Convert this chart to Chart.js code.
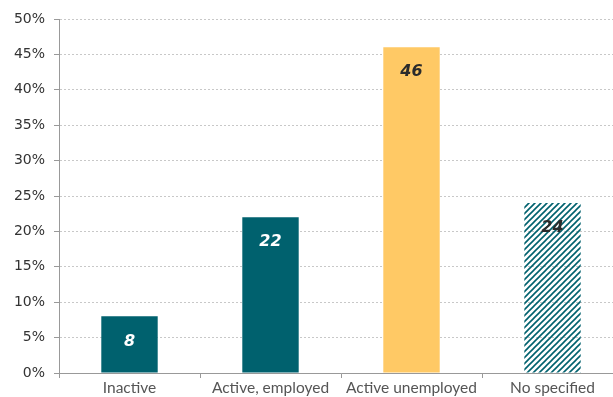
<!DOCTYPE html>
<html>
<head>
<meta charset="utf-8">
<script src="https://cdn.jsdelivr.net/npm/chart.js@4"></script>
<style>
  html, body { margin: 0; padding: 0; overflow: hidden; background: #fff; }
  #wrap { position: relative; width: 623px; height: 397px; }
</style>
</head>
<body>
<div id="wrap"><canvas id="chart"></canvas></div>
<script>
/* Share by activity status, in % */
const categories = ['Inactive', 'Active, employed', 'Active unemployed', 'No specified'];
const shares = [8, 22, 46, 24];
const yTicks = [0, 5, 10, 15, 20, 25, 30, 35, 40, 45, 50];

const teal = '#00616e';
const yellow = '#ffc965';

// hatched fill for the "No specified" bar
function hatch() {
  const c = document.createElement('canvas');
  c.width = 6; c.height = 6;
  const g = c.getContext('2d');
  g.strokeStyle = teal;
  g.lineWidth = 1.6;
  g.beginPath();
  g.moveTo(-1, 7); g.lineTo(7, -1);
  g.moveTo(-4, 4); g.lineTo(4, -4);
  g.moveTo(2, 10); g.lineTo(10, 2);
  g.stroke();
  return g.createPattern(c, 'repeat');
}

const fills = [teal, teal, yellow, hatch()];
const labelColors = ['#ffffff', '#ffffff', '#2b2b2b', '#2b2b2b'];

const valueLabels = {
  id: 'valueLabels',
  afterDatasetsDraw(chart) {
    const ctx = chart.ctx;
    const meta = chart.getDatasetMeta(0);
    ctx.save();
    ctx.font = 'italic bold 16px "DejaVu Sans", sans-serif';
    ctx.textAlign = 'center';
    ctx.textBaseline = 'middle';
    meta.data.forEach((bar, i) => {
      ctx.fillStyle = labelColors[i];
      ctx.fillText(String(shares[i]), bar.x, bar.y + 25);
    });
    ctx.restore();
  }
};

new Chart(document.getElementById('chart'), {
  type: 'bar',
  data: {
    labels: categories,
    datasets: [{
      data: shares,
      backgroundColor: fills,
      borderWidth: 0,
      barPercentage: 0.4,
      categoryPercentage: 1
    }]
  },
  options: {
    responsive: true,
    maintainAspectRatio: false,
    animation: false,
    layout: { padding: { top: 19, right: 0, bottom: 0, left: 0 } },
    plugins: { legend: { display: false }, tooltip: { enabled: false } },
    scales: {
      x: {
        afterFit: (s) => { s.height = 24; },
        grid: { offset: true, drawOnChartArea: false, tickLength: 5, color: '#999' },
        border: { color: '#999' },
        ticks: { color: '#555', padding: 1, font: { family: 'Lato', size: 15.5 } }
      },
      y: {
        min: 0,
        max: 50,
        afterFit: (s) => { s.width = 59; },
        afterBuildTicks: (s) => { s.ticks = yTicks.map(v => ({ value: v })); },
        grid: { color: '#c8c8c8', tickColor: '#999', tickLength: 5, tickBorderDash: [] },
        border: { color: '#999', dash: [2, 2] },
        ticks: {
          color: '#333',
          padding: 9,
          font: { family: 'DejaVu Sans', size: 14 },
          callback: (v) => v + '%'
        }
      }
    }
  },
  plugins: [valueLabels]
});
</script>
</body>
</html>
